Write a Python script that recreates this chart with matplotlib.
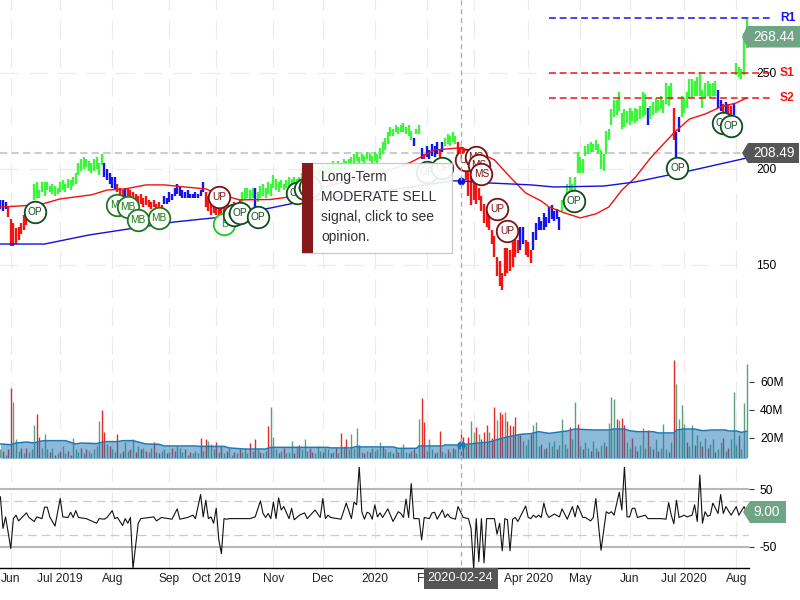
from matplotlib import pyplot as plt
from matplotlib.patches import Polygon, Rectangle

plt.rcParams['font.family'] = ['Liberation Sans', 'DejaVu Sans']
plt.rcParams['axes.unicode_minus'] = False

# x axis labels, positions are bar numbers
tick_idx = [4, 23, 43, 65, 83, 105, 124, 144, 164, 182, 203, 223, 242, 263, 283]
tick_labels = ['Jun', 'Jul 2019', 'Aug', 'Sep', 'Oct 2019', 'Nov', 'Dec', '2020', 'Feb', 'Mar',
               'Apr 2020', 'May', 'Jun', 'Jul 2020', 'Aug']

# price bars
bar_high = [184, 184, 183,
            180, 174, 172, 169, 170, 172, 176, 177, 180, 182,
            192, 193, 189, 193, 193, 193, 191, 192, 191, 190, 193, 194, 192, 195, 194, 196, 198, 203, 205, 206, 205,
            204, 203, 205, 206, 203, 208,
            203, 200, 198, 196, 196,
            192, 190, 189,
            190,
            190, 189, 188, 187, 186, 187, 185, 186, 184, 183, 184, 182, 183, 181,
            186, 185, 188, 187, 190, 192, 191, 189, 188, 189, 187, 187, 188, 187, 189, 193,
            188, 186, 184, 183, 184, 182, 181, 182, 180, 181, 182, 183, 182, 184,
            188, 190, 190, 189, 190,
            190,
            188, 191, 192, 190, 193, 192, 197, 195, 193, 194, 192, 194, 196, 195, 196, 195, 196, 198, 197, 199,
            198, 200, 199, 201, 200, 202, 201, 203, 202, 204, 203, 204, 203, 205, 204, 205, 206,
            208, 209, 206, 208, 207, 209, 208, 207, 209, 208, 211, 214, 216, 219, 222, 221, 223, 222, 223, 224,
            222, 223, 220,
            216,
            221, 223,
            211, 208, 212, 210, 213, 212, 214, 210, 214,
            216, 218, 217, 219, 217,
            214, 210, 210, 207, 205, 202, 197, 196, 190, 186, 182, 180, 178, 168, 165, 154, 152, 146, 159, 159,
            158, 162, 163, 163,
            170, 170,
            163, 162, 158,
            167, 172, 175, 173, 177, 175, 180, 181, 178, 179, 175,
            184, 186, 192, 196, 192, 196, 209, 206, 205, 212, 213, 214, 213, 215, 213, 210, 208, 220, 221, 231,
            236, 236, 240, 229, 231, 230, 232, 230, 232, 231, 233, 240, 239,
            232,
            233, 235, 237, 236, 238, 236, 245, 243, 245,
            232,
            219, 227,
            238, 237, 240, 247, 247, 246, 248, 250, 241, 245, 246, 244, 245, 246,
            241, 236,
            234, 235, 234, 233, 234,
            255, 253, 252, 271, 278]
bar_low = [179, 178, 179,
           175, 160, 160, 161, 163, 166, 168, 171, 173, 176,
           184, 185, 185, 188, 186, 189, 188, 187, 186, 187, 188, 189, 188, 190, 189, 191, 192, 197, 199, 200, 201,
           199, 198, 199, 200, 197, 202,
           196, 194, 192, 190, 189,
           188, 186, 186,
           184,
           184, 184, 183, 182, 181, 182, 180, 181, 180, 179, 180, 178, 179, 178,
           182, 182, 183, 184, 186, 187, 186, 185, 185, 185, 185, 185, 185, 185, 186, 188,
           180, 178, 176, 177, 176, 175, 175, 176, 175, 176, 177, 176, 177, 178,
           182, 184, 185, 184, 185,
           179,
           183, 185, 186, 185, 187, 186, 190, 189, 188, 190, 189, 190, 191, 190, 191, 192, 192, 193, 192, 194,
           193, 195, 195, 196, 196, 197, 197, 198, 198, 199, 199, 200, 199, 200, 200, 201, 202,
           203, 204, 203, 204, 203, 205, 204, 203, 204, 203, 205, 208, 210, 213, 217, 217, 219, 218, 219, 219,
           218, 217, 215,
           212,
           218, 218,
           205, 205, 206, 205, 207, 206, 208, 206, 209,
           212, 213, 212, 214, 213,
           207, 202, 199, 194, 186, 181, 184, 182, 184, 178, 172, 170, 168, 161, 154, 144, 139, 137, 144, 146,
           147, 149, 154, 156,
           158, 161,
           155, 154, 151,
           158, 163, 168, 168, 168, 170, 172, 174, 173, 174, 168,
           178, 181, 186, 186, 187, 188, 198, 198, 198, 207, 208, 209, 209, 210, 208, 200, 199, 208, 215, 223,
           227, 228, 230, 221, 222, 224, 223, 225, 224, 225, 226, 227, 228,
           223,
           226, 228, 229, 230, 231, 229, 234, 233, 236,
           215,
           206, 219,
           227, 229, 232, 237, 237, 238, 238, 238, 232, 237, 238, 237, 238, 238,
           232, 230,
           228, 229, 228, 228, 228,
           249, 248, 247, 249, 263]
trend_colors = ['blue', 'red', 'green', 'blue', 'red', 'blue', 'red', 'blue', 'red', 'green', 'blue', 'green',
                'blue', 'green', 'blue', 'red', 'blue', 'red', 'blue', 'green', 'red', 'blue', 'red', 'blue',
                'green', 'blue', 'green', 'red', 'blue', 'green', 'blue', 'red', 'blue', 'red', 'blue', 'green']
trend_lengths = [3, 10, 27, 5, 3, 1, 14, 16, 14, 5, 1, 60,
                 1, 2, 1, 1, 5, 1, 1, 5, 24, 2, 3, 11,
                 33, 1, 9, 1, 2, 14, 2, 1, 1, 2, 1, 5]

# moving averages
red_ma_idx = [0, 15, 23, 35, 41, 48, 56, 63, 71, 79, 84, 92, 104, 111, 116, 150, 158, 167, 176, 180, 186, 190,
              196, 202, 208, 211, 217, 223, 229, 234, 239, 244, 250, 259, 265, 271, 277, 283, 287]
red_ma = [180.2, 181.3, 184.4, 186.5, 189, 189.6, 191.7, 191.7, 190.6, 189.6, 187, 183.9, 184.1, 185.4, 187.5,
          199.5, 203.6, 209.9, 210.9, 209.9, 207.3, 204.7, 195.8, 187.5, 183.3, 180.2, 177.1, 174.5, 176.6, 180.2,
          189, 195.3, 205.7, 218.8, 226, 228.6, 232.3, 234.4, 237]
blue_ma_idx = [0, 17, 34, 52, 67, 82, 104, 115, 150, 174, 177, 188, 204, 213, 232, 244, 259, 265, 287]
blue_ma = [160.9, 160.9, 165.6, 169.3, 172.4, 174.5, 179.7, 182.8, 189, 193.8, 193.8, 192.7, 191.7, 190.6, 191.1,
           193.2, 197.4, 199, 205.7]

r1_level = 278.6
s1_level = 250
s2_level = 237
last_price = 268.44
ma_last = 208.49
cci_last = 9.00

# signals: bar number, price, label
signal_idx = [13.4, 45, 49, 53, 61, 84, 86, 90, 92, 99, 114, 117, 119, 164, 170, 179, 183, 184, 185, 191, 195, 220.6,
              260.4, 278, 281]
signal_price = [177.6, 181.3, 180.2, 173.4, 174.5, 185.4, 171.4, 176, 177, 175, 187.5, 189.6, 190.6, 198.4, 200.5,
                204.7, 206.3, 202, 197.4, 179, 167.7, 183.3, 200.5, 224, 222.4]
signal_label = ['OP', 'MB', 'MB', 'MB', 'MB', 'UP', 'B', 'OP', 'OP', 'OP', 'OP', 'OP', 'OP', 'OP', 'OP',
                'UP', 'MS', 'MS', 'MS', 'UP', 'UP', 'OP', 'OP', 'OP', 'OP']

# volume in millions
volume = [12, 11, 8, 12, 55.7, 45.5, 19, 11, 13, 9,
          13, 10, 12, 29.5, 37, 21, 13, 22.8, 12, 10,
          13, 8, 9, 11, 14, 9, 11, 8, 20, 12,
          10, 13, 9, 12, 11, 9, 12, 14, 32, 40,
          24, 16, 14, 12, 10, 22.6, 9, 11, 17, 11,
          12, 19, 10, 14, 12, 13, 11, 10, 13, 17,
          10, 9, 11, 12, 9, 10, 13, 11, 14, 13,
          10, 12, 8, 10, 9, 11, 9, 20, 11, 19,
          18, 16, 12, 17, 10, 14, 9, 11, 13, 8,
          10, 9, 12, 10, 13, 9, 16.4, 11, 19.3, 13,
          10, 9, 11, 28.8, 42, 21, 12, 9, 11, 13,
          9, 10, 18, 9, 14, 15, 12, 19, 11, 13,
          10, 9, 14, 11, 10, 13, 12, 9, 10, 13,
          9, 23.6, 14, 19, 12, 22.6, 13, 27, 15, 10,
          9, 11, 10, 13, 11, 12, 17, 14, 12, 10,
          11, 9, 13, 10, 12, 16, 10, 9, 11, 12,
          9, 33.6, 48.6, 31.4, 11, 19.3, 12, 9, 10, 25,
          11, 9, 12, 10, 13, 12, 14, 23, 21, 15,
          21, 32, 24, 28, 23, 19, 24, 29, 24, 20,
          42, 33, 38.6, 37, 38.6, 32, 29, 28.6, 35, 23,
          22, 18, 15, 19, 23, 29.5, 31.4, 14, 16, 12,
          13, 17, 14, 18, 12, 15, 33.6, 16, 13, 28,
          19, 45.5, 30, 14, 12, 17, 13, 11, 18, 13,
          11, 15, 17, 14, 31, 49.3, 48, 33.6, 33, 34,
          29, 17, 13, 20, 14, 11, 15, 27, 13, 26,
          14, 12, 19, 11, 13, 30, 12, 10, 17, 76,
          58.8, 33.6, 43.6, 30, 17, 14, 29, 15, 22, 18,
          14, 20, 13, 16, 19, 10, 12, 17, 20, 11,
          13, 19, 53, 15, 22, 12, 45, 72.9]
volume_red = [1, 3, 4, 8, 10, 14, 15, 19, 21, 23, 26, 27, 31, 33, 39, 40, 42, 45, 47, 50, 52, 54, 56, 59, 61, 64,
              66, 67, 71, 73, 77, 79, 83, 85, 87, 90, 92, 96, 98, 100, 103, 107, 109, 113, 115, 119, 120, 124,
              127, 129, 131, 133, 138, 140, 142, 147, 151, 153, 157, 159, 162, 163, 167, 169, 172, 174, 177, 178,
              180, 183, 185, 186, 187, 189, 190, 192, 193, 195, 196, 197, 198, 200, 204, 208, 210, 214, 219, 222,
              224, 227, 230, 233, 237, 239, 240, 243, 245, 249, 251, 253, 257, 259, 264, 267, 270, 272, 275, 278,
              280, 284]
volume_ma_idx = [0, 4, 6, 10, 13, 15, 17, 25, 29, 31, 37, 40, 45, 47, 51, 56, 61, 63, 75, 77, 86, 88, 94, 102,
                 104, 126, 127, 135, 137, 139, 151, 153, 160, 161, 170, 171, 177, 179, 188, 191, 195, 200, 204,
                 207, 211, 218, 221, 228, 234, 236, 240, 242, 245, 251, 253, 259, 260, 263, 267, 270, 274, 279,
                 280, 283, 285, 287]
volume_ma = [15.7, 15.2, 16.4, 17.1, 16.4, 17.6, 18.1, 18.1, 15.7, 16.4, 16, 17.4, 17.4, 18.1, 18.1, 15.7, 15.5,
             14.3, 14.3, 14, 14, 12.9, 12.1, 12.1, 13.3, 13.3, 12.9, 12.9, 14, 13.6, 13.6, 12.6, 12.6, 14.3, 14.3,
             15, 15, 15.5, 17.1, 18.8, 20.7, 22.6, 23.1, 24.5, 23.3, 25, 26.4, 25.7, 25.7, 26.4, 26.4, 25.2, 24.5,
             24.5, 23.6, 23.6, 25.7, 26.4, 26.4, 25.2, 25.7, 25.7, 25, 25, 24, 24.8]

# oscillator
cci_idx = [0, 1, 2, 4, 5, 6, 7, 10, 11, 13, 14, 16, 17, 18, 19, 21, 23, 24, 26, 27, 28, 29, 30, 33, 37, 38, 40, 41,
           43, 44, 45, 47, 48, 49, 50, 51, 53, 54, 59, 60, 62, 66, 68, 69, 72, 74, 75, 77, 78, 79, 80, 81, 82, 83,
           84, 85, 86, 87, 88, 96, 98, 100, 101, 102, 103, 104, 105, 106, 107, 108, 109, 111, 112, 113, 115, 117,
           118, 121, 123, 124, 125, 126, 127, 131, 133, 135, 136, 137, 138, 139, 140, 141, 142, 143, 144, 145, 146,
           147, 149, 151, 153, 154, 155, 156, 157, 158, 159, 161, 162, 163, 165, 166, 167, 168, 170, 171, 172, 173,
           175, 176, 178, 180, 181, 182, 183, 184, 185, 186, 187, 190, 191, 192, 193, 194, 195, 196, 197, 198, 199,
           202, 203, 204, 205, 206, 207, 208, 209, 210, 211, 213, 215, 216, 218, 220, 221, 222, 224, 225, 227, 228,
           229, 231, 233, 234, 235, 236, 238, 239, 240, 241, 242, 243, 244, 245, 248, 249, 254, 256, 257, 258, 259,
           260, 261, 263, 264, 266, 267, 268, 269, 270, 271, 272, 273, 274, 276, 277, 278, 279, 281, 283, 284, 286,
           287]
cci = [37, -18, 2, -53, -1, 5, -5, 9, 1, -6, 2, -1, 19, 19, 2, -14, 34, 2, 1, 10, 1, 13, 1, -1, -9, -1, -2, 1,
       13, -1, 1, -13, -1, -9, 1, -88, -9, -1, 2, -5, 1, -2, 16, -2, 1, 5, -1, 41, 2, 31, -1, 2, -9, 17,
       -38, -62, -1, -2, -1, -1, 2, 30, 8, 1, 8, -1, 28, -1, 35, 14, 20, -1, 17, -3, 5, 9,
       -1, 14, 1, 34, -1, 5, 1, -2, 26, -1, 28, 23, 90, 11, -2, 10, 8, -2, 23, 2, 9,
       1, 16, -6, 11, 8, 1, 33, 1, 60, -1, -1, -38, 1, -1, 9, 10, -2, 14, 1, 7, 1,
       -2, 20, 1, -1, -18, -88, -1, -76, -1, -78, -1, -1, -28, -9, -57, -1, -3, -57, -2, 1, -6,
       21, 1, -1, 5, 1, 5, 1, 26, 8, 1, 7, 2, 16, -2, 20, 2, 22, 1, 1, -5, 1,
       34, -56, 11, 8, 11, 5, 45, 14, 90, 2, 2, 17, 17, 1, 5, -1, -1, -2, 27, 5, -10,
       31, 1, 5, 2, 5, 23, -6, 75, -9, 11, 3, 5, 26, 8, 41, 8, 20, 5, 20, 5, 20,
       9]

n_bars = len(bar_high)
assert n_bars == len(bar_low) == sum(trend_lengths) == len(volume)
assert len(cci_idx) == len(cci)


def fx(x):
    return x / 800


def fy(y):
    return 1 - y / 600


def add_axes_px(left, top, right, bottom):
    return fig.add_axes([fx(left), fy(bottom), (right - left) / 800, (bottom - top) / 600])


def price_tag(points, color, text, tx, ty, size=9.8):
    # box with a pointed left side, given in pixels of the picture
    fig.add_artist(Polygon([(fx(x), fy(y)) for x, y in points], closed=True, facecolor=color,
                           edgecolor='none', transform=fig.transFigure, zorder=5))
    fig.text(fx(tx), fy(ty), text, color='white', fontsize=size, ha='center', va='center', zorder=6)


fig = plt.figure(figsize=(8, 6), dpi=100)

ax_price = add_axes_px(0, 0, 749, 355)
ax_vol = add_axes_px(0, 360, 749, 458)
ax_cci = add_axes_px(0, 467, 749, 568)

grid_dash = (0, (15, 8))
for ax in [ax_price, ax_vol, ax_cci]:
    ax.set_xlim(-0.15, 287.9)
    ax.set_xticks(tick_idx)
    ax.grid(axis='x', color='#ececec', lw=0.9, linestyle=grid_dash)
    ax.set_axisbelow(True)
    ax.yaxis.tick_right()
    for s in ax.spines.values():
        s.set_visible(False)
    ax.patch.set_alpha(0)

# ---- price pane
ax_price.set_ylim(103.1, 288)
ax_price.set_yticks([150, 200, 250])
ax_price.grid(axis='y', color='#ececec', lw=0.9, linestyle=grid_dash)
ax_price.tick_params(axis='y', length=0, pad=5, labelsize=8.64)
ax_price.tick_params(axis='x', length=0, labelbottom=False)

bar_palette = {'green': '#3cf53c', 'blue': '#1414f0', 'red': '#f51414'}
bar_colors = []
for c, n in zip(trend_colors, trend_lengths):
    bar_colors += [bar_palette[c]] * n
ax_price.vlines(range(n_bars), bar_low, bar_high, colors=bar_colors, lw=1.7, zorder=3)

ax_price.plot(red_ma_idx, red_ma, color='#f01010', lw=1, zorder=4)
ax_price.plot(blue_ma_idx, blue_ma, color='#1010e0', lw=1, zorder=4)

ax_price.axhline(ma_last, color='#cccccc', lw=1.5, linestyle=(0, (3.5, 2)), zorder=2)

# support and resistance run past the axes into the right margin
for level, col in [(r1_level, '#1414f0'), (s1_level, '#f01414'), (s2_level, '#f01414')]:
    ax_price.plot([211, 296.6], [level, level], color=col, lw=1.1, linestyle=(0, (4.5, 2.5)),
                  clip_on=False, zorder=4)
for label, level, col in [('R1', r1_level, '#1414f0'), ('S1', s1_level, '#f01414'), ('S2', s2_level, '#f01414')]:
    ax_price.text(302.7, level, label, color=col, fontsize=8.64, fontweight='bold', ha='center', va='center',
                  clip_on=False, zorder=5)

signal_style = {'OP': ('#0f4f1e', '#0f4f1e'), 'MB': ('#1c7a1c', '#1c7a1c'), 'B': ('#22c422', '#1c9a1c'),
                'UP': ('#7a1414', '#7a1414'), 'MS': ('#7a1414', '#7a1414')}
for n, (i, p, lab) in enumerate(zip(signal_idx, signal_price, signal_label)):
    edge, txt = signal_style[lab]
    ax_price.plot([i], [p], marker='o', ms=15.5, mfc='white', mec=edge, mew=1.3, linestyle='none', zorder=6 + n * 0.01)
    ax_price.text(i, p, lab, color=txt, fontsize=7.3, ha='center', va='center', zorder=6.005 + n * 0.01)

ax_price.plot([177], [193.8], marker='o', ms=4.5, color='#1010e0', linestyle='none', zorder=7)
ax_price.plot([177], [210], marker='o', ms=4.5, color='#f01010', linestyle='none', zorder=7)

# ---- volume pane
ax_vol.set_ylim(5.7, 75.7)
ax_vol.set_yticks([20, 40, 60])
ax_vol.set_yticklabels(['20M', '40M', '60M'])
ax_vol.tick_params(axis='y', length=3.6, width=0.8, pad=4.3, labelsize=8.64, color='#333333')
ax_vol.tick_params(axis='x', length=0, labelbottom=False)
vol_colors = ['#e52a2a' if i in volume_red else '#5f9f7c' for i in range(n_bars)]
ax_vol.vlines(range(n_bars), 0, volume, colors=vol_colors, lw=1.0, zorder=2)
ax_vol.fill_between(volume_ma_idx, 0, volume_ma, color='#1f77b4', alpha=0.5, lw=0, zorder=3)
ax_vol.plot(volume_ma_idx, volume_ma, color='#1f77b4', lw=1.1, zorder=4)
ax_vol.plot([177], [15], marker='o', ms=5, color='#1f77b4', linestyle='none', zorder=5)

# ---- oscillator pane
ax_cci.set_ylim(-87, 88.9)
ax_cci.set_yticks([-50, 50])
ax_cci.tick_params(axis='y', length=3.6, width=0.8, pad=4.3, labelsize=8.64, color='#333333')
ax_cci.set_xticklabels(tick_labels)
ax_cci.tick_params(axis='x', length=0, pad=3.5, labelsize=8.64, colors='#222222')
for level in [-50, 50]:
    ax_cci.axhline(level, color='#b8b8b8', lw=1.5, zorder=1)
for level in [-30, 30]:
    ax_cci.axhline(level, color='#cccccc', lw=0.9, linestyle=(0, (7, 4)), zorder=1)
ax_cci.plot(cci_idx, cci, color='#111111', lw=0.8, zorder=3)
ax_cci.spines['bottom'].set_visible(True)
ax_cci.spines['bottom'].set_color('black')
ax_cci.spines['bottom'].set_linewidth(1)

# ---- crosshair over all panes
fig.add_artist(plt.Line2D([fx(461), fx(461)], [fy(0), fy(568)], color='#aaaaaa', lw=0.9,
                          linestyle=(0, (4, 3)), transform=fig.transFigure, zorder=2))

# ---- tooltip
fig.add_artist(Rectangle((fx(302), fy(253)), 150 / 800, 90 / 600, facecolor='white', edgecolor='#c4c4c4', lw=0.9,
                         alpha=0.9, transform=fig.transFigure, zorder=4))
fig.add_artist(Rectangle((fx(302), fy(253)), 11 / 800, 90 / 600, facecolor='#861a1a', edgecolor='none',
                         transform=fig.transFigure, zorder=4.1))
tooltip_lines = ['Long-Term', 'MODERATE SELL', 'signal, click to see', 'opinion.']
for n, line in enumerate(tooltip_lines):
    fig.text(fx(321), fy(177 + 20 * n), line, color='#333333', fontsize=10, ha='left', va='center', zorder=4.2)

# ---- value tags
price_tag([(742, 37), (747, 26), (800, 26), (800, 47.5), (747, 47.5)], '#6fa585', f'{last_price:.2f}', 774, 37)
price_tag([(742, 153), (748, 143), (799, 143), (799, 163), (748, 163)], '#555555', f'{ma_last:.2f}', 774, 153)
price_tag([(743, 512), (750, 501), (786, 501), (786, 523), (750, 523)], '#6fa585', f'{cci_last:.2f}', 767, 512)
price_tag([(424, 568), (498, 568), (498, 589), (424, 589)], '#555555', '2020-02-24', 460.5, 578, size=9.2)

plt.savefig('out.png', dpi=100)
plt.close()
